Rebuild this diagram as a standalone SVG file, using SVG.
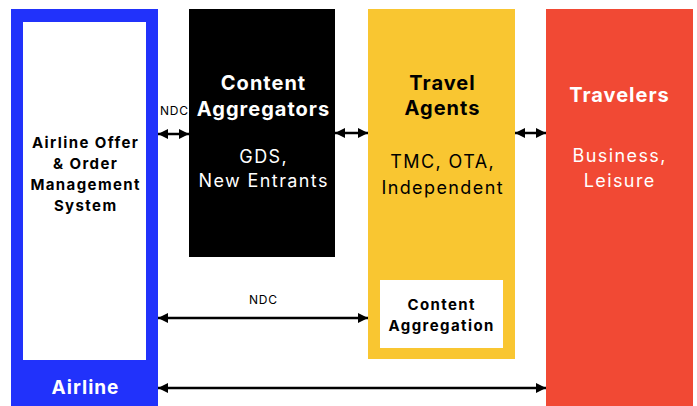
<svg xmlns="http://www.w3.org/2000/svg" width="697" height="406" viewBox="0 0 697 406">
<style>
text{font-family:Inter,"Noto Sans","Liberation Sans",sans-serif;text-anchor:middle;dominant-baseline:central}
.b{font-weight:700}
.w{fill:#fff}
.k{fill:#000}
.t{font-size:20px;letter-spacing:1px}
.r{font-size:18px;letter-spacing:1.4px}
.s{font-size:15px;letter-spacing:1.4px}
.n{font-size:12px;letter-spacing:0.8px}
.ln{stroke:#000;stroke-width:2.5;fill:none;marker-start:url(#ah);marker-end:url(#ah)}
</style>
<defs>
<marker id="ah" viewBox="0 0 10 10" refX="10" refY="5" markerWidth="10" markerHeight="11" markerUnits="userSpaceOnUse" orient="auto-start-reverse">
<path d="M0,0L10,5L0,10z" fill="#000"/>
</marker>
</defs>
<rect width="697" height="406" fill="#fff"/>
<g id="airline">
<rect x="11" y="9" width="147" height="397" fill="#2132FB"/>
<rect x="23" y="22" width="123" height="338" fill="#fff"/>
<text class="b k s" x="85.7" y="142">Airline Offer</text>
<text class="b k s" x="85.7" y="163">&amp; Order</text>
<text class="b k s" x="85.7" y="184">Management</text>
<text class="b k s" x="85.7" y="205">System</text>
<text class="b w" x="85.5" y="387" font-size="19" letter-spacing="1">Airline</text>
</g>
<g id="aggregators">
<rect x="189" y="9" width="146" height="248" fill="#000"/>
<text class="b w t" x="263.5" y="83">Content</text>
<text class="b w t" x="263.5" y="109">Aggregators</text>
<text class="w r" x="263.7" y="156">GDS,</text>
<text class="w r" x="263.7" y="180">New Entrants</text>
</g>
<g id="agents">
<rect x="368" y="9" width="147" height="350" fill="#F9C631"/>
<text class="b k t" x="442.5" y="83">Travel</text>
<text class="b k t" x="442.5" y="108">Agents</text>
<text class="k r" x="442.7" y="161">TMC, OTA,</text>
<text class="k r" x="442.7" y="187">Independent</text>
<rect x="380" y="280" width="123" height="68" fill="#fff"/>
<text class="b k s" x="441.7" y="304">Content</text>
<text class="b k s" x="441.7" y="325">Aggregation</text>
</g>
<g id="travelers">
<rect x="546" y="9" width="147" height="397" fill="#F14934"/>
<text class="b w t" x="619.5" y="95">Travelers</text>
<text class="w r" x="619.7" y="155">Business,</text>
<text class="w r" x="619.7" y="180">Leisure</text>
</g>
<g id="connectors">
<path class="ln" d="M158,134H189"/>
<path class="ln" d="M335,133H368"/>
<path class="ln" d="M515,133H546"/>
<path class="ln" d="M158,318H368"/>
<path class="ln" d="M158,388H546"/>
<text class="k n" x="174.4" y="110">NDC</text>
<text class="k n" x="263.4" y="299">NDC</text>
</g>
</svg>
